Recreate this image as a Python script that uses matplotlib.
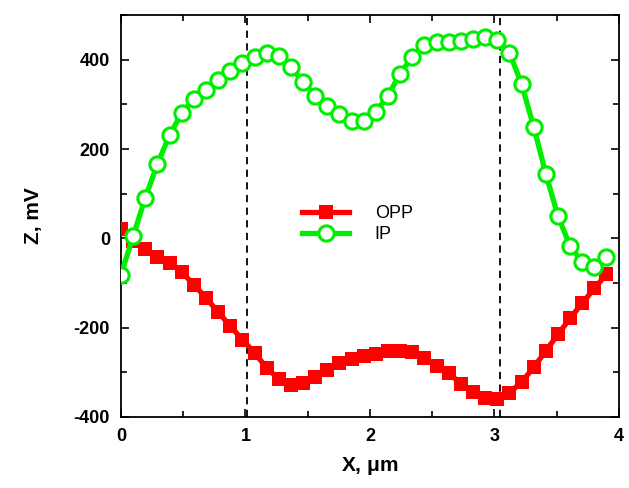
import numpy as np
import matplotlib.pyplot as plt
from matplotlib.ticker import MultipleLocator

plt.rcParams['font.family'] = ['Liberation Sans', 'DejaVu Sans']
plt.rcParams['axes.unicode_minus'] = False

# scan positions, um
x = np.linspace(0, 3.9, 41)

# out-of-plane signal, mV
opp = [22, -5, -23, -41, -56, -75, -104, -133, -165, -196,
       -227, -256, -290, -315, -328, -324, -311, -294, -278, -270,
       -263, -258, -253, -252, -255, -267, -285, -302, -325, -345,
       -358, -360, -346, -322, -289, -252, -215, -179, -145, -112,
       -80]

# in-plane signal, mV
ip = [-81, 5, 91, 167, 231, 281, 312, 333, 354, 375,
      393, 406, 415, 409, 383, 350, 320, 297, 279, 264,
      264, 283, 320, 369, 407, 434, 439, 439, 441, 446,
      451, 445, 416, 346, 250, 145, 50, -17, -53, -63,
      -41]

# domain wall positions
walls = [1.015, 3.045]

fig = plt.figure(figsize=(6.29, 4.88), dpi=100)
ax = fig.add_axes([0.1924, 0.1455, 0.7916, 0.8235])

ax.plot(x, opp, color='red', lw=3.8, marker='s', ms=9.5,
        markeredgewidth=0, label='OPP', zorder=3)
ax.plot(x, ip, color='#00ee00', lw=3.8, marker='o', ms=11,
        markerfacecolor='white', markeredgecolor='#00ee00',
        markeredgewidth=2.2, label='IP', zorder=4)

for w in walls:
    ax.axvline(w, color='black', ls=(0, (4, 3)), lw=1.3, zorder=2)

ax.set_xlim(0, 4)
ax.set_ylim(-400, 500)
ax.xaxis.set_major_locator(MultipleLocator(1))
ax.xaxis.set_minor_locator(MultipleLocator(0.5))
ax.yaxis.set_major_locator(MultipleLocator(200))
ax.yaxis.set_minor_locator(MultipleLocator(100))
ax.tick_params(which='both', direction='in', top=True, right=True, width=1.2)
ax.tick_params(which='major', length=6, labelsize=13, pad=8)
ax.tick_params(which='minor', length=4)
for lab in ax.get_xticklabels() + ax.get_yticklabels():
    lab.set_fontweight('bold')
for s in ax.spines.values():
    s.set_linewidth(1.3)

ax.set_xlabel(r'X, $\mathregular{\mu}$m', fontsize=15, fontweight='bold', labelpad=7)
ax.set_ylabel('Z, mV', fontsize=15, fontweight='bold', labelpad=22)

ax.legend(loc='center', bbox_to_anchor=(0.475, 0.48), frameon=False,
          fontsize=13, handlelength=2.6, handletextpad=1.4, labelspacing=0.25)

fig.savefig('out.png', dpi=100)
